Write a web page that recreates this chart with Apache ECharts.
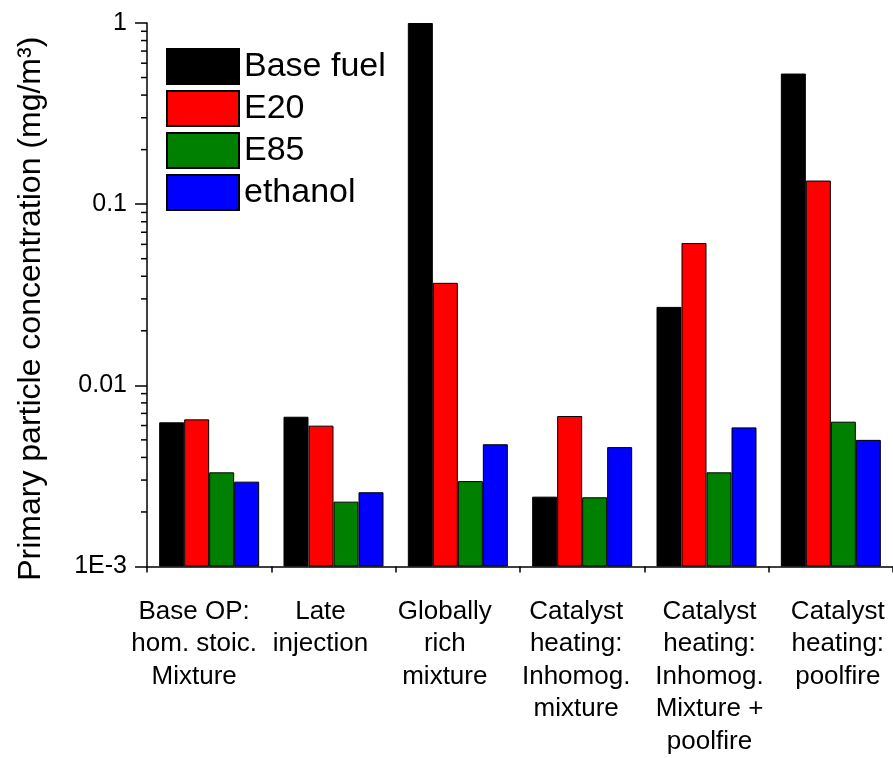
<!DOCTYPE html>
<html><head><meta charset="utf-8">
<script src="https://cdn.jsdelivr.net/npm/echarts@6/dist/echarts.min.js"></script>
<style>html,body{margin:0;padding:0;background:#fff}#c{width:893px;height:758px}</style>
</head><body><div id="c"></div>
<script>
const categories = [
  'Base OP:\nhom. stoic.\nMixture',
  'Late\ninjection',
  'Globally\nrich\nmixture',
  'Catalyst\nheating:\nInhomog.\nmixture',
  'Catalyst\nheating:\nInhomog.\nMixture +\npoolfire',
  'Catalyst\nheating:\npoolfire'
];
const seriesNames = ['Base fuel', 'E20', 'E85', 'ethanol'];
const baseFuel = [0.00625, 0.00671, 1.0, 0.00243, 0.0271, 0.526];
const e20 = [0.00649, 0.00599, 0.0368, 0.00677, 0.061, 0.135];
const e85 = [0.00331, 0.00228, 0.00296, 0.00241, 0.00331, 0.0063];
const ethanol = [0.00294, 0.00257, 0.00473, 0.00456, 0.00586, 0.0050];
const yTickValues = [0.001, 0.01, 0.1, 1];
const yTickLabels = ['1E-3', '0.01', '0.1', '1'];
const yMinorTicks = [0.002, 0.003, 0.004, 0.005, 0.006, 0.007, 0.008, 0.009,
                     0.02, 0.03, 0.04, 0.05, 0.06, 0.07, 0.08, 0.09,
                     0.2, 0.3, 0.4, 0.5, 0.6, 0.7, 0.8, 0.9];

// styling (not data)
const colors = ['#000000', '#ff0000', '#008000', '#0000ff'];
const labelShift = [-15, -13, -13, -6, 3, 7];
const FONT = '"Liberation Sans", Arial, sans-serif';

const xData = categories.map((c, i) => {
  const s = labelShift[i];
  return { value: c, textStyle: { padding: s < 0 ? [0, -2 * s, 0, 0] : [0, 0, 0, 2 * s] } };
});

const values = [baseFuel, e20, e85, ethanol];
const barSeries = seriesNames.map((n, k) => ({
  name: n, type: 'bar', xAxisIndex: 0, yAxisIndex: 0,
  data: values[k],
  barWidth: 25, barGap: '0%',
  itemStyle: { color: colors[k], borderColor: '#000', borderWidth: 1 }
}));

// minor ticks of the log axis, positioned by the axis scale itself
const minorTickSeries = {
  name: 'minorTicks', type: 'custom', xAxisIndex: 0, yAxisIndex: 0,
  silent: true, clip: false, z: 5,
  data: yMinorTicks.map(v => [0, v]),
  encode: { x: 0, y: 1 },
  renderItem: (params, api) => {
    const y = api.coord([0, api.value(1)])[1];
    const x0 = params.coordSys.x;
    return { type: 'line', shape: { x1: x0 - 6, y1: y, x2: x0, y2: y },
             style: { stroke: '#000', lineWidth: 1.5 } };
  }
};

const chart = echarts.init(document.getElementById('c'), null, { renderer: 'canvas' });
chart.setOption({
  animation: false,
  backgroundColor: '#ffffff',
  grid: { left: 147, top: 23, right: 0, bottom: 187, containLabel: false },
  legend: {
    orient: 'vertical', left: 166, top: 48, padding: 0,
    itemWidth: 72, itemHeight: 35, itemGap: 5,
    icon: 'rect',
    textStyle: { fontFamily: FONT, fontSize: 34, color: '#000', lineHeight: 35 },
    data: seriesNames
  },
  xAxis: [{
    type: 'category', data: xData, gridIndex: 0, position: 'bottom',
    axisLine: { onZero: false, lineStyle: { color: '#000', width: 1.5 } },
    axisTick: { alignWithLabel: true, length: 12, lineStyle: { color: '#000', width: 1.5 } },
    axisLabel: { interval: 0, margin: 29, fontFamily: FONT, fontSize: 26, lineHeight: 32.5, color: '#000' },
    splitLine: { show: false }
  }, {
    type: 'category', data: categories, gridIndex: 0, position: 'bottom', offset: 0,
    axisLine: { show: false, onZero: false },
    axisTick: { show: true, length: 6, lineStyle: { color: '#000', width: 1.5 } },
    axisLabel: { show: false },
    splitLine: { show: false }
  }],
  yAxis: [{
    type: 'log', min: 0.001, max: 1, logBase: 10, startValue: 0.001, position: 'left',
    name: 'Primary particle concentration (mg/m³)',
    nameLocation: 'middle', nameGap: 100,
    nameTextStyle: { fontFamily: FONT, fontSize: 32, color: '#000', padding: [0, 28, 0, 0] },
    axisLine: { show: true, lineStyle: { color: '#000', width: 1.5 } },
    axisTick: { show: true, length: 12, lineStyle: { color: '#000', width: 1.5 } },
    axisLabel: {
      margin: 20, fontFamily: FONT, fontSize: 25, color: '#000',
      formatter: v => { const i = yTickValues.findIndex(t => Math.abs(t - v) / t < 1e-6); return i >= 0 ? yTickLabels[i] : ''; }
    },
    splitLine: { show: false }
  }],
  series: barSeries.concat([minorTickSeries])
});
</script></body></html>
